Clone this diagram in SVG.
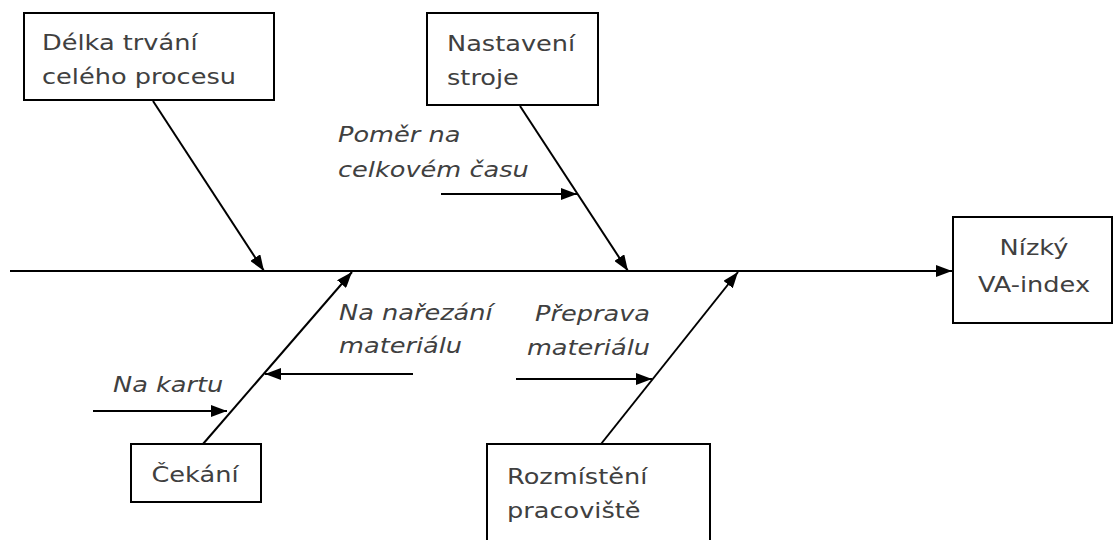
<svg xmlns="http://www.w3.org/2000/svg" width="1115" height="540" viewBox="0 0 1115 540">
  <style>
    .box { fill: #ffffff; stroke: #000000; stroke-width: 2; }
    .line { stroke: #000000; stroke-width: 2; fill: none; marker-end: url(#head); }
    .lbl { font-family: "DejaVu Sans", "Noto Sans", sans-serif; font-size: 21px; fill: #404040; }
    .it { font-style: italic; }
  </style>
  <defs>
    <marker id="head" viewBox="0 0 16 12" refX="16" refY="6" markerWidth="16" markerHeight="12" markerUnits="userSpaceOnUse" orient="auto">
      <path d="M0,0 L16,6 L0,12 Z" fill="#000000"/>
    </marker>
  </defs>
  <rect width="1115" height="540" fill="#ffffff"/>

  <g id="connectors">
    <line class="line" x1="10" y1="271" x2="952" y2="271"/>
    <line class="line" x1="153" y1="101" x2="264" y2="271"/>
    <line class="line" x1="520" y1="106" x2="628" y2="271"/>
    <line class="line" x1="441" y1="194" x2="577" y2="194"/>
    <line class="line" x1="203" y1="444" x2="352" y2="272"/>
    <line class="line" x1="93" y1="411" x2="227" y2="411"/>
    <line class="line" x1="413" y1="374" x2="265" y2="374"/>
    <line class="line" x1="601" y1="444" x2="738" y2="272"/>
    <line class="line" x1="516" y1="379" x2="652" y2="379"/>
  </g>

  <!-- labels are widened horizontally by 1.22 -->
  <g id="delka">
    <rect class="box" x="24" y="13" width="250" height="87"/>
    <text class="lbl" transform="matrix(1.22 0 0 1 42 50)">Délka trvání</text>
    <text class="lbl" transform="matrix(1.22 0 0 1 42 84)">celého procesu</text>
  </g>

  <g id="nastaveni">
    <rect class="box" x="427" y="13" width="171" height="92"/>
    <text class="lbl" transform="matrix(1.22 0 0 1 447 51)">Nastavení</text>
    <text class="lbl" transform="matrix(1.22 0 0 1 447 85)">stroje</text>
  </g>

  <g id="pomer">
    <text class="lbl it" transform="matrix(1.22 0 0 1 338 142)">Poměr na</text>
    <text class="lbl it" transform="matrix(1.22 0 0 1 338 177)">celkovém času</text>
  </g>

  <g id="vaindex">
    <rect class="box" x="953" y="217" width="159" height="106"/>
    <text class="lbl" text-anchor="middle" transform="matrix(1.22 0 0 1 1034 255)">Nízký</text>
    <text class="lbl" text-anchor="middle" transform="matrix(1.22 0 0 1 1034 292)">VA-index</text>
  </g>

  <g id="narezani">
    <text class="lbl it" transform="matrix(1.22 0 0 1 339 320)">Na nařezání</text>
    <text class="lbl it" transform="matrix(1.22 0 0 1 339 353)">materiálu</text>
  </g>

  <g id="kartu">
    <text class="lbl it" transform="matrix(1.22 0 0 1 113 392)">Na kartu</text>
  </g>

  <g id="preprava">
    <text class="lbl it" text-anchor="end" transform="matrix(1.22 0 0 1 650 321)">Přeprava</text>
    <text class="lbl it" text-anchor="end" transform="matrix(1.22 0 0 1 650 355)">materiálu</text>
  </g>

  <g id="cekani">
    <rect class="box" x="131" y="444" width="130" height="58"/>
    <text class="lbl" text-anchor="middle" transform="matrix(1.22 0 0 1 195 482)">Čekání</text>
  </g>

  <g id="rozmisteni">
    <rect class="box" x="487" y="444" width="223" height="110"/>
    <text class="lbl" transform="matrix(1.22 0 0 1 507 484)">Rozmístění</text>
    <text class="lbl" transform="matrix(1.22 0 0 1 507 518)">pracoviště</text>
  </g>
</svg>
